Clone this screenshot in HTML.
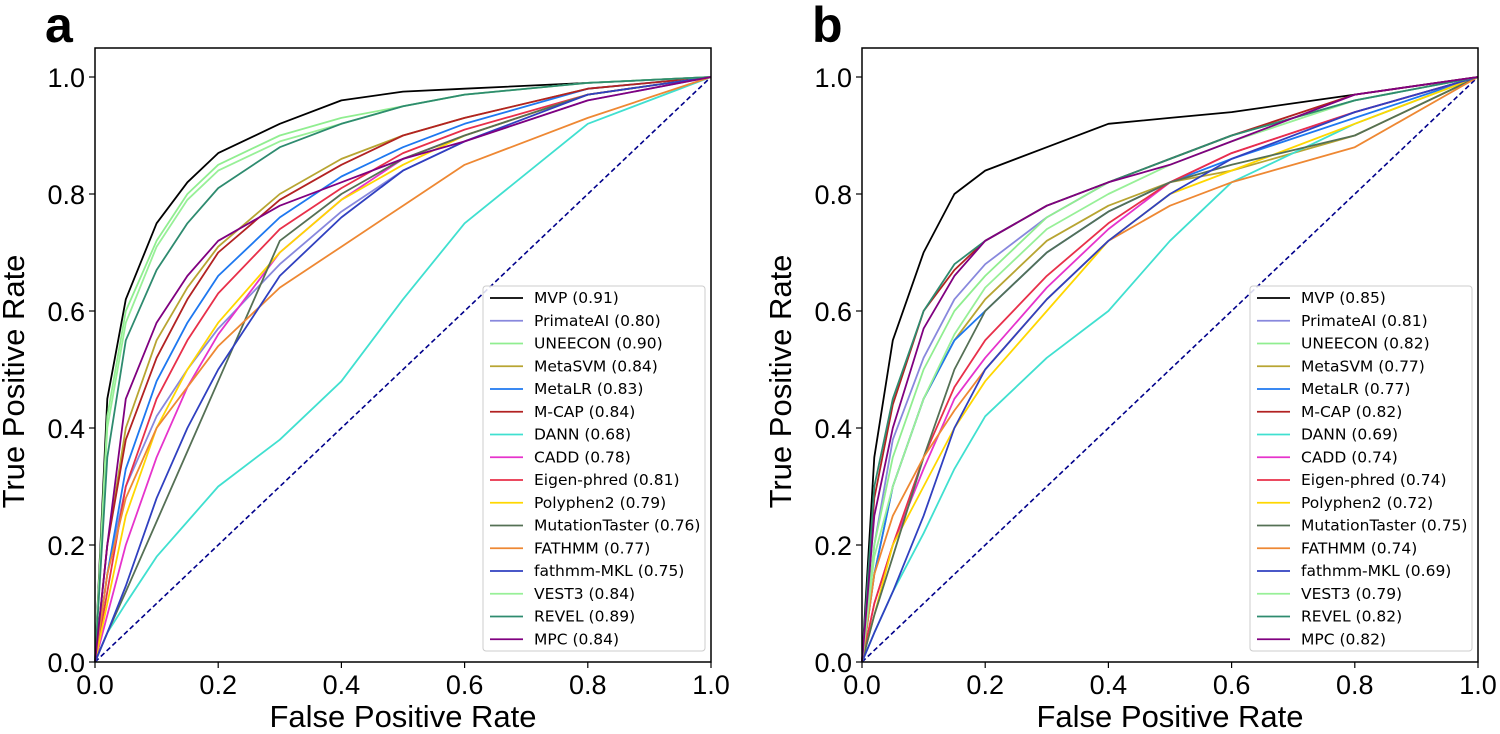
<!DOCTYPE html>
<html><head><meta charset="utf-8"><style>
body{margin:0;background:#fff;width:1500px;height:729px;overflow:hidden;font-family:"Liberation Sans",sans-serif}
</style></head><body>
<svg id="chart" width="1500" height="729" xmlns="http://www.w3.org/2000/svg" font-family="Liberation Sans, sans-serif"></svg>
<script>
const fpr=[0,0.02,0.05,0.1,0.15,0.2,0.3,0.4,0.5,0.6,0.8,1];
const names=["MVP","PrimateAI","UNEECON","MetaSVM","MetaLR","M-CAP","DANN","CADD","Eigen-phred","Polyphen2","MutationTaster","FATHMM","fathmm-MKL","VEST3","REVEL","MPC"];
const colors=["#000000","#8888dd","#90ee90","#b8a532","#1e78f0","#b22222","#40e0d0","#e633cc","#e8304a","#ffd700","#557055","#ee8833","#3040c0","#98f098","#2e8b6f","#800080"];
const aucA=["0.91","0.80","0.90","0.84","0.83","0.84","0.68","0.78","0.81","0.79","0.76","0.77","0.75","0.84","0.89","0.84"];
const aucB=["0.85","0.81","0.82","0.77","0.77","0.82","0.69","0.74","0.74","0.72","0.75","0.74","0.69","0.79","0.82","0.82"];
const tprA=[
[0,0.45,0.62,0.75,0.82,0.87,0.92,0.96,0.975,0.98,0.99,1],
[0,0.15,0.3,0.42,0.5,0.57,0.68,0.77,0.84,0.89,0.96,1],
[0,0.42,0.6,0.72,0.8,0.85,0.9,0.93,0.95,0.97,0.99,1],
[0,0.2,0.4,0.55,0.64,0.71,0.8,0.86,0.9,0.93,0.98,1],
[0,0.15,0.33,0.48,0.58,0.66,0.76,0.83,0.88,0.92,0.98,1],
[0,0.2,0.38,0.52,0.62,0.7,0.79,0.85,0.9,0.93,0.98,1],
[0,0.05,0.1,0.18,0.24,0.3,0.38,0.48,0.62,0.75,0.92,1],
[0,0.08,0.2,0.35,0.47,0.56,0.7,0.79,0.86,0.9,0.97,1],
[0,0.12,0.3,0.45,0.55,0.63,0.74,0.81,0.87,0.91,0.97,1],
[0,0.1,0.25,0.4,0.5,0.58,0.7,0.79,0.85,0.9,0.97,1],
[0,0.05,0.12,0.24,0.36,0.48,0.72,0.8,0.86,0.9,0.97,1],
[0,0.15,0.28,0.4,0.47,0.54,0.64,0.71,0.78,0.85,0.93,1],
[0,0.05,0.13,0.28,0.4,0.5,0.66,0.76,0.84,0.89,0.97,1],
[0,0.4,0.58,0.71,0.79,0.84,0.89,0.92,0.95,0.97,0.99,1],
[0,0.35,0.55,0.67,0.75,0.81,0.88,0.92,0.95,0.97,0.99,1],
[0,0.2,0.45,0.58,0.66,0.72,0.78,0.82,0.86,0.89,0.96,1]];
const tprB=[
[0,0.35,0.55,0.7,0.8,0.84,0.88,0.92,0.93,0.94,0.97,1],
[0,0.2,0.38,0.52,0.62,0.68,0.76,0.82,0.86,0.9,0.96,1],
[0,0.2,0.35,0.5,0.6,0.66,0.76,0.82,0.86,0.9,0.96,1],
[0,0.15,0.3,0.45,0.55,0.62,0.72,0.78,0.82,0.84,0.9,1],
[0,0.15,0.3,0.45,0.55,0.6,0.7,0.77,0.82,0.86,0.93,1],
[0,0.28,0.44,0.6,0.67,0.72,0.78,0.82,0.86,0.9,0.97,1],
[0,0.05,0.12,0.22,0.33,0.42,0.52,0.6,0.72,0.82,0.92,1],
[0,0.1,0.2,0.33,0.45,0.52,0.64,0.74,0.82,0.87,0.94,1],
[0,0.1,0.2,0.35,0.47,0.55,0.66,0.75,0.82,0.87,0.94,1],
[0,0.08,0.2,0.3,0.4,0.48,0.6,0.72,0.8,0.84,0.92,1],
[0,0.08,0.18,0.35,0.5,0.6,0.7,0.77,0.82,0.85,0.9,1],
[0,0.15,0.25,0.35,0.43,0.5,0.62,0.72,0.78,0.82,0.88,1],
[0,0.05,0.12,0.25,0.4,0.5,0.62,0.72,0.8,0.86,0.94,1],
[0,0.18,0.3,0.45,0.56,0.64,0.74,0.8,0.85,0.89,0.96,1],
[0,0.3,0.45,0.6,0.68,0.72,0.78,0.82,0.86,0.9,0.96,1],
[0,0.25,0.4,0.57,0.66,0.72,0.78,0.82,0.85,0.89,0.97,1]];
const ticks=[0,0.2,0.4,0.6,0.8,1.0];
const NS="http://www.w3.org/2000/svg";
const svg=document.getElementById('chart');
function mk(tag,attrs,parent){const e=document.createElementNS(NS,tag);for(const k in attrs)e.setAttribute(k,attrs[k]);(parent||svg).appendChild(e);return e;}
function panel(id,letter,x0,tprs,aucs){
  const W=616,Y0=662,H=585;
  const sx=v=>x0+v*W, sy=v=>Y0-v*H;
  const g=mk('g',{});
  
  
  const t=mk('text',{x:x0-50,y:42,'font-size':50,'font-weight':'bold'},g);t.textContent=letter;
  
  
  const diag=mk('line',{x1:sx(0),y1:sy(0),x2:sx(1),y2:sy(1),stroke:'#00008b','stroke-width':1.6,'stroke-dasharray':'5,3'},g);
  
  
  tprs.forEach((arr,i)=>{
    const pts=arr.map((v,j)=>sx(fpr[j]).toFixed(1)+','+sy(v).toFixed(1)).join(' ');
    const p=mk('polyline',{points:pts,fill:'none',stroke:colors[i],'stroke-width':1.8,'stroke-linejoin':'round'},g);
    
    
  });
  const fr=mk('rect',{x:x0,y:48,width:W,height:Y0-48,fill:'none',stroke:'#000','stroke-width':1.5},g);
  
  
  ticks.forEach(v=>{
    mk('line',{x1:sx(v),y1:Y0,x2:sx(v),y2:Y0+6,stroke:'#000','stroke-width':1.2},g);
    const tx=mk('text',{x:sx(v),y:Y0+32,'font-size':27,'text-anchor':'middle'},g);tx.textContent=v.toFixed(1);
    
    
    mk('line',{x1:x0-6,y1:sy(v),x2:x0,y2:sy(v),stroke:'#000','stroke-width':1.2},g);
    const ty=mk('text',{x:x0-10,y:sy(v)+10,'font-size':27,'text-anchor':'end'},g);ty.textContent=v.toFixed(1);
    
    
  });
  const xt=mk('text',{x:x0+W/2,y:727,'font-size':31,'text-anchor':'middle'},g);xt.textContent='False Positive Rate';
  
  
  const yt=mk('text',{x:0,y:0,'font-size':31,'text-anchor':'middle',transform:`translate(${x0-71},${Y0-H/2+12}) rotate(-90)`},g);yt.textContent='True Positive Rate';
  
  
  const lx=x0+W-228, ly=286;
  const lg=mk('g',{},g);
  
  
  mk('rect',{x:lx,y:ly,width:222,height:365,rx:3,fill:'#fff','fill-opacity':0.85,stroke:'#ccc','stroke-width':1},lg);
  names.forEach((n,i)=>{
    const yy=ly+12+i*22.75;
    const e=mk('g',{},lg);
    
    
    mk('line',{x1:lx+7,y1:yy,x2:lx+40,y2:yy,stroke:colors[i],'stroke-width':1.8},e);
    const tt=mk('text',{x:lx+51,y:yy+5,'font-size':15.5,'font-family':'DejaVu Sans, sans-serif'},e);tt.textContent=n+' ('+aucs[i]+')';
  });
}
panel('a','a',95,tprA,aucA);
panel('b','b',862,tprB,aucB);
</script>
</body></html>
